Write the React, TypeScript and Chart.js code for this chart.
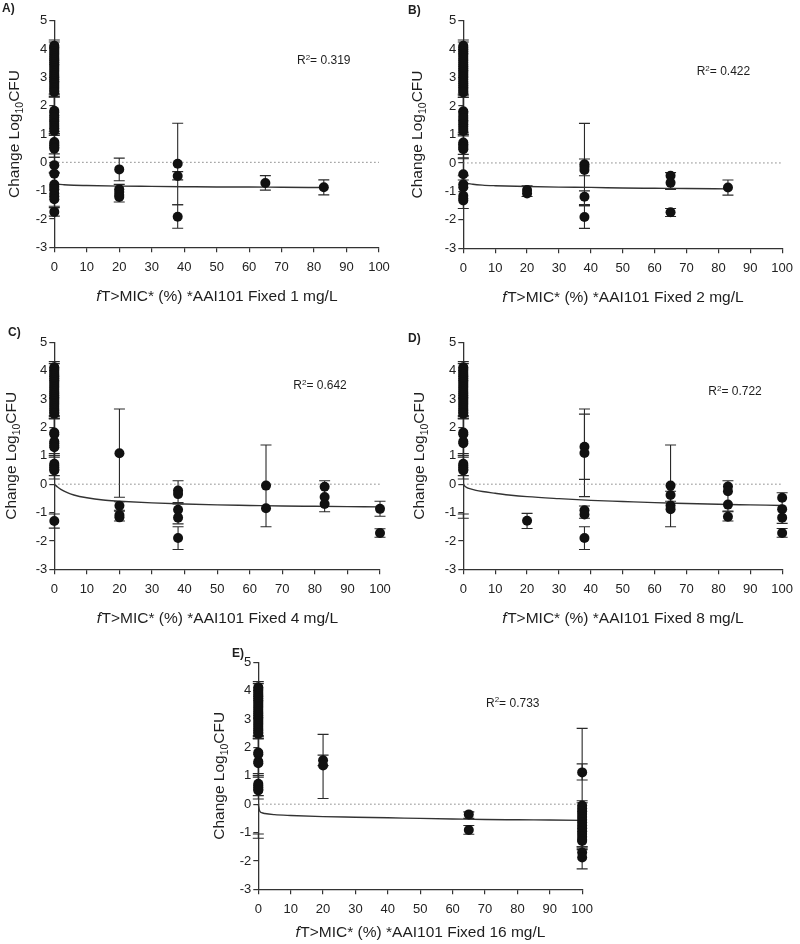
import React, { useEffect, useRef } from 'react';
import { Chart, registerables } from 'chart.js';
Chart.register(...registerables);

const FONT = '"Liberation Sans", Arial, sans-serif';

// ---------- data ----------
const X_TICKS = [0, 10, 20, 30, 40, 50, 60, 70, 80, 90, 100];
const Y_TICKS = [-3, -2, -1, 0, 1, 2, 3, 4, 5];

// growth-control observations at fT>MIC = 0 (shared by all panels)
const CONTROL_Y = [4.12, 4.06, 4.0, 3.93, 3.86, 3.8, 3.73, 3.66, 3.6, 3.53, 3.46, 3.4, 3.33, 3.26, 3.2, 3.13, 3.06, 3.0, 2.93, 2.86, 2.8, 2.73, 2.66, 2.6, 2.53, 2.48, 1.82, 1.76, 1.5, 1.44, 0.72, 0.66, 0.6, 0.53, 0.48];
// [x, low, high]
const CONTROL_BARS: [number, number, number][] = [[0, 2.38, 4.32], [0, 2.3, 4.25], [0, 1.02, 2.42], [0, 0.95, 2.32], [0, 0.3, 1.08], [0, 0.18, 1.0]];

// Panel A (1 mg/L)
const A_ZERO_EXTRA = [1.66, 1.58, 1.36, 1.28, 1.2, 1.12, -0.1, -0.4, -0.78, -0.86, -0.95, -1.1, -1.2, -1.3, -1.75];
const A_PTS: [number, number][] = [[20, -0.25], [20, -0.95], [20, -1.05], [20, -1.15], [20, -1.22], [38, -0.05], [38, -0.48], [38, -1.92], [65, -0.73], [83, -0.88]];
const A_BARS: [number, number, number][] = [[0, -0.38, 0.18], [0, -1.55, -0.35], [0, -1.9, -1.6], [20, -0.65, 0.15], [20, -1.4, -0.78], [38, -1.5, 1.38], [38, -0.62, -0.33], [38, -2.33, -1.5], [65, -0.98, -0.47], [83, -1.15, -0.62]];
const A_FIT: [number, number][] = [[0, -0.72], [1, -0.76], [3, -0.79], [6, -0.81], [10, -0.82], [20, -0.84], [30, -0.85], [40, -0.86], [50, -0.87], [60, -0.87], [70, -0.88], [83, -0.89]];

// Panel B (2 mg/L)
const B_ZERO_EXTRA = [1.66, 1.58, 1.36, 1.28, 1.2, 1.12, -0.4, -0.75, -0.85, -1.15, -1.25, -1.32];
const B_PTS: [number, number][] = [[20, -0.95], [20, -1.07], [38, -0.05], [38, -0.13], [38, -0.25], [38, -1.19], [38, -1.9], [65, -0.45], [65, -0.7], [65, -1.73], [83, -0.86]];
const B_BARS: [number, number, number][] = [[0, -0.6, 0.15], [0, -1.6, -0.45], [20, -1.18, -0.8], [38, -1.5, 1.39], [38, -0.45, 0.14], [38, -1.46, -0.98], [38, -2.3, -1.5], [65, -0.93, -0.34], [65, -1.88, -1.6], [83, -1.13, -0.6]];
const B_FIT: [number, number][] = [[0, -0.66], [1, -0.71], [3, -0.75], [6, -0.78], [10, -0.8], [20, -0.83], [30, -0.85], [40, -0.86], [50, -0.88], [60, -0.89], [70, -0.9], [83, -0.91]];

// Panel C (4 mg/L)
const C_ZERO_EXTRA = [1.36, 1.3, -1.3];
const C_PTS: [number, number][] = [[20, 1.09], [20, -0.76], [20, -1.09], [20, -1.17], [38, -0.22], [38, -0.35], [38, -0.9], [38, -1.18], [38, -1.9], [65, -0.05], [65, -0.85], [83, -0.09], [83, -0.45], [83, -0.7], [100, -0.87], [100, -1.72]];
const C_BARS: [number, number, number][] = [[0, -1.55, -1.05], [20, -0.46, 2.65], [20, -0.92, -0.62], [20, -1.3, -0.95], [38, -0.7, 0.12], [38, -1.4, -0.65], [38, -2.3, -1.5], [65, -1.5, 1.38], [83, -0.97, 0.12], [100, -1.13, -0.6], [100, -1.87, -1.57]];
const C_FIT: [number, number][] = [[0, 0], [1, -0.1], [2, -0.18], [4, -0.3], [6, -0.38], [10, -0.48], [15, -0.56], [20, -0.6], [30, -0.66], [40, -0.7], [50, -0.73], [60, -0.75], [70, -0.77], [80, -0.78], [90, -0.79], [100, -0.8]];

// Panel D (8 mg/L)
const D_ZERO_EXTRA: number[] = [];
const D_PTS: [number, number][] = [[20, -1.29], [38, 1.32], [38, 1.1], [38, -0.92], [38, -1.07], [38, -1.9], [65, -0.05], [65, -0.38], [65, -0.75], [65, -0.88], [83, -0.08], [83, -0.25], [83, -0.72], [83, -1.15], [100, -0.48], [100, -0.88], [100, -1.18], [100, -1.72]];
const D_BARS: [number, number, number][] = [[0, -1.2, -1.05], [20, -1.56, -1.03], [38, -0.44, 2.65], [38, 0.17, 2.47], [38, -1.2, -0.77], [38, -2.3, -1.5], [65, -1.5, 1.38], [65, -0.6, -0.25], [83, -0.97, 0.12], [83, -1.3, -0.95], [100, -1.38, -0.3], [100, -1.87, -1.56]];
const D_FIT: [number, number][] = [[0, 0], [0.5, -0.07], [1, -0.11], [2, -0.16], [4, -0.22], [6, -0.26], [10, -0.32], [15, -0.39], [20, -0.44], [30, -0.51], [40, -0.57], [50, -0.61], [60, -0.65], [70, -0.68], [80, -0.71], [90, -0.73], [100, -0.75]];

// Panel E (16 mg/L)
const E_ZERO_EXTRA: number[] = [];
const E_PTS: [number, number][] = [[20, 1.55], [20, 1.36], [65, -0.36], [65, -0.91], [100, 1.12], [100, -0.05], [100, -0.15], [100, -0.25], [100, -0.35], [100, -0.45], [100, -0.55], [100, -0.65], [100, -0.75], [100, -0.85], [100, -0.95], [100, -1.05], [100, -1.15], [100, -1.25], [100, -1.3], [100, -1.7], [100, -1.88]];
const E_BARS: [number, number, number][] = [[0, -1.2, -1.05], [20, 0.2, 2.46], [20, 1.36, 1.73], [65, -0.5, -0.27], [65, -1.06, -0.75], [100, -1.55, 2.67], [100, 0.85, 1.42], [100, -1.5, 0.12], [100, -1.6, 0.05], [100, -2.28, -1.5]];
const E_FIT: [number, number][] = [[0, 0], [0.3, -0.2], [0.6, -0.27], [1, -0.3], [2, -0.33], [5, -0.37], [10, -0.4], [20, -0.44], [30, -0.46], [40, -0.48], [50, -0.5], [60, -0.52], [70, -0.54], [80, -0.55], [90, -0.56], [100, -0.57]];

const ZERO_LINE: [number, number][] = [[0, 0], [100, 0]];

type PanelCfg = {
  label: string; dose: string; r2: string;
  zeroExtra: number[]; pts: [number, number][]; bars: [number, number, number][]; fit: [number, number][];
  left: number; top: number; w: number; h: number;
  L: number; T: number; R: number; B: number;
  labelX: number; labelY: number; yTitleDx: number; xTitleDy: number; r2Dx: number; r2Dy: number;
};

const PANELS: PanelCfg[] = [
  { label: 'A)', dose: '1', r2: '0.319', zeroExtra: A_ZERO_EXTRA, pts: A_PTS, bars: A_BARS, fit: A_FIT,
    left: 0, top: 0, w: 400, h: 325, L: 54.3, T: 20.7, R: 21, B: 77.7, labelX: 2, labelY: 8, yTitleDx: -40.5, xTitleDy: 48.5, r2Dx: 242.7, r2Dy: 39.3 },
  { label: 'B)', dose: '2', r2: '0.422', zeroExtra: B_ZERO_EXTRA, pts: B_PTS, bars: B_BARS, fit: B_FIT,
    left: 400, top: 0, w: 400, h: 325, L: 63.3, T: 20.7, R: 12.3, B: 76.7, labelX: 8, labelY: 10, yTitleDx: -47, xTitleDy: 48.5, r2Dx: 233.4, r2Dy: 50.3 },
  { label: 'C)', dose: '4', r2: '0.642', zeroExtra: C_ZERO_EXTRA, pts: C_PTS, bars: C_BARS, fit: C_FIT,
    left: 0, top: 315, w: 400, h: 325, L: 54.3, T: 27.3, R: 20, B: 70.7, labelX: 8, labelY: 17, yTitleDx: -43.6, xTitleDy: 48.5, r2Dx: 239, r2Dy: 42.7 },
  { label: 'D)', dose: '8', r2: '0.722', zeroExtra: D_ZERO_EXTRA, pts: D_PTS, bars: D_BARS, fit: D_FIT,
    left: 400, top: 315, w: 400, h: 325, L: 63.3, T: 27.3, R: 12.3, B: 70.7, labelX: 8, labelY: 23, yTitleDx: -45, xTitleDy: 48.5, r2Dx: 245, r2Dy: 48.7 },
  { label: 'E)', dose: '16', r2: '0.733', zeroExtra: E_ZERO_EXTRA, pts: E_PTS, bars: E_BARS, fit: E_FIT,
    left: 200, top: 635, w: 400, h: 309, L: 58.3, T: 27.3, R: 16.7, B: 54.7, labelX: 32, labelY: 18, yTitleDx: -40, xTitleDy: 42.5, r2Dx: 227.7, r2Dy: 40.4 },
];

const annotPlugin = {
  id: 'annot',
  beforeDatasetsDraw(chart: any, _a: any, o: any) {
    const { ctx, scales } = chart;
    const x = scales.x, y = scales.y;
    ctx.save();
    ctx.strokeStyle = '#2a2a2a';
    ctx.lineWidth = 1.1;
    const cap = 5.5;
    for (const [bx, lo, hi] of o.bars as [number, number, number][]) {
      const px = x.getPixelForValue(bx);
      const p1 = y.getPixelForValue(lo);
      const p2 = y.getPixelForValue(hi);
      ctx.beginPath();
      ctx.moveTo(px, p1); ctx.lineTo(px, p2);
      ctx.moveTo(px - cap, p1); ctx.lineTo(px + cap, p1);
      ctx.moveTo(px - cap, p2); ctx.lineTo(px + cap, p2);
      ctx.stroke();
    }
    ctx.restore();
  },
  afterDraw(chart: any, _a: any, o: any) {
    const { ctx, chartArea: ca } = chart;
    ctx.save();
    ctx.fillStyle = '#1e1e1e';
    ctx.textAlign = 'left';
    ctx.textBaseline = 'alphabetic';
    // panel label
    ctx.font = `bold 12px ${FONT}`;
    ctx.fillText(o.label, o.labelX, o.labelY + 4.3);

    // y-axis title with subscript
    const big = `15.5px ${FONT}`, small = `10.5px ${FONT}`;
    ctx.save();
    ctx.translate(ca.left + o.yTitleDx, (ca.top + ca.bottom) / 2);
    ctx.rotate(-Math.PI / 2);
    ctx.font = big;
    const w1 = ctx.measureText('Change Log').width;
    const w3 = ctx.measureText('CFU').width;
    ctx.font = small;
    const w2 = ctx.measureText('10').width;
    let sx = -(w1 + w2 + w3) / 2;
    ctx.font = big; ctx.fillText('Change Log', sx, 5.6); sx += w1;
    ctx.font = small; ctx.fillText('10', sx, 9.6); sx += w2;
    ctx.font = big; ctx.fillText('CFU', sx, 5.6);
    ctx.restore();

    // x-axis title with italic f
    const rest = `T>MIC* (%) *AAI101 Fixed ${o.dose} mg/L`;
    ctx.font = `italic 15.5px ${FONT}`;
    const wf = ctx.measureText('f').width;
    ctx.font = big;
    const wr = ctx.measureText(rest).width;
    let tx = (ca.left + ca.right) / 2 - (wf + wr) / 2;
    const ty = ca.bottom + o.xTitleDy + 5.6;
    ctx.font = `italic 15.5px ${FONT}`;
    ctx.fillText('f', tx, ty); tx += wf + 0.5;
    ctx.font = big;
    ctx.fillText(rest, tx, ty);

    // R^2 annotation
    let rx = ca.left + o.r2Dx;
    const ry = ca.top + o.r2Dy + 4.4;
    ctx.font = `12px ${FONT}`;
    ctx.fillText('R', rx, ry); rx += ctx.measureText('R').width;
    ctx.font = `8px ${FONT}`;
    ctx.fillText('2', rx, ry - 4.8); rx += ctx.measureText('2').width;
    ctx.font = `12px ${FONT}`;
    ctx.fillText(`= ${o.r2}`, rx, ry);
    ctx.restore();
  },
};

function Panel({ cfg }: { cfg: PanelCfg }) {
  const ref = useRef<HTMLCanvasElement>(null);
  useEffect(() => {
    const pts = [
      ...CONTROL_Y.map((v) => ({ x: 0, y: v })),
      ...cfg.zeroExtra.map((v) => ({ x: 0, y: v })),
      ...cfg.pts.map(([x, y]) => ({ x, y })),
    ];
    const bars = [...CONTROL_BARS, ...cfg.bars];
    const tickColor = '#222';
    const chart = new Chart(ref.current as HTMLCanvasElement, {
      type: 'scatter',
      data: {
        datasets: [
          {
            data: pts, pointRadius: 5, pointHoverRadius: 5, backgroundColor: '#111', borderColor: '#111', borderWidth: 0,
            showLine: false, clip: false, order: 0,
          } as any,
          {
            data: cfg.fit.map(([x, y]) => ({ x, y })), showLine: true, pointRadius: 0, borderColor: '#333', borderWidth: 1.4,
            cubicInterpolationMode: 'monotone', clip: false, order: 1,
          } as any,
          {
            data: ZERO_LINE.map(([x, y]) => ({ x, y })), showLine: true, pointRadius: 0, borderColor: '#666', borderWidth: 1,
            borderDash: [1.2, 2.8], clip: false, order: 2,
          } as any,
        ],
      },
      options: {
        responsive: false,
        animation: false,
        devicePixelRatio: 1,
        layout: { padding: { left: 0, top: cfg.T, right: cfg.R, bottom: 0 } },
        plugins: {
          legend: { display: false },
          tooltip: { enabled: false },
          annot: {
            bars, label: cfg.label, dose: cfg.dose, r2: cfg.r2, labelX: cfg.labelX, labelY: cfg.labelY,
            yTitleDx: cfg.yTitleDx, xTitleDy: cfg.xTitleDy, r2Dx: cfg.r2Dx, r2Dy: cfg.r2Dy,
          },
        } as any,
        scales: {
          x: {
            type: 'linear', min: 0, max: 100,
            afterFit: (s: any) => { s.height = cfg.B; },
            afterBuildTicks: (s: any) => { s.ticks = X_TICKS.map((v) => ({ value: v })); },
            grid: { display: true, drawOnChartArea: false, drawTicks: true, tickLength: 5, color: '#333', lineWidth: 1.2 },
            border: { display: true, color: '#333', width: 1.3 },
            ticks: { color: tickColor, font: { family: FONT, size: 13 }, padding: 7, maxRotation: 0, autoSkip: false },
          },
          y: {
            type: 'linear', min: -3, max: 5,
            afterFit: (s: any) => { s.width = cfg.L; },
            afterBuildTicks: (s: any) => { s.ticks = Y_TICKS.map((v) => ({ value: v })); },
            grid: { display: true, drawOnChartArea: false, drawTicks: true, tickLength: 5, color: '#333', lineWidth: 1.2 },
            border: { display: true, color: '#333', width: 1.3 },
            ticks: { color: tickColor, font: { family: FONT, size: 13 }, padding: 2, autoSkip: false },
          },
        } as any,
      },
      plugins: [annotPlugin as any],
    });
    return () => chart.destroy();
  }, []);
  return (
    <canvas
      ref={ref}
      width={cfg.w}
      height={cfg.h}
      style={{ position: 'absolute', left: cfg.left, top: cfg.top, width: cfg.w, height: cfg.h }}
    />
  );
}

export default function App() {
  return (
    <div style={{ position: 'absolute', left: 0, top: 0, width: 800, height: 944, background: '#fff', overflow: 'hidden' }}>
      {PANELS.map((p) => (
        <Panel key={p.label} cfg={p} />
      ))}
    </div>
  );
}
